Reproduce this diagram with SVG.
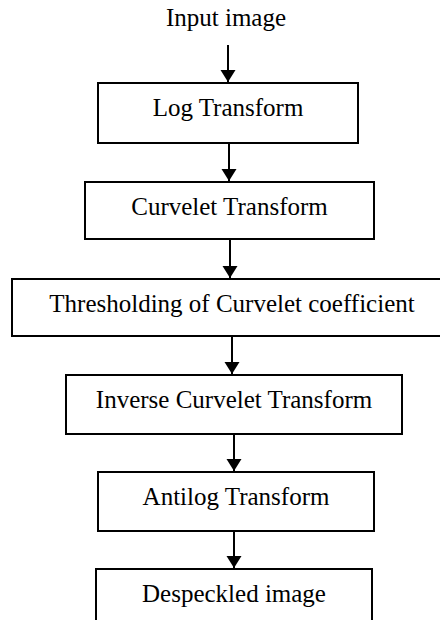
<svg xmlns="http://www.w3.org/2000/svg" width="440" height="620" viewBox="0 0 440 620">
<style>
.box{fill:#fff;stroke:#000;stroke-width:2}
.t{font-family:"Liberation Serif","Times New Roman",serif;font-size:25px;fill:#000;text-anchor:middle}
.c{stroke:#000;stroke-width:2;fill:none;marker-end:url(#ah)}
</style>
<defs>
<marker id="ah" markerUnits="userSpaceOnUse" markerWidth="13" markerHeight="16" refX="12" refY="7.5" orient="auto">
<path d="M0,0 L12,7.5 L0,15 Z" fill="#000"/>
</marker>
</defs>
<rect width="440" height="620" fill="#fff"/>
<g id="input"><text class="t" x="226" y="26">Input image</text></g>
<g id="log"><rect class="box" x="98" y="83" width="260" height="60"/><text class="t" x="228" y="116">Log Transform</text></g>
<g id="curvelet"><rect class="box" x="85" y="182" width="289" height="57"/><text class="t" x="229.5" y="215">Curvelet Transform</text></g>
<g id="threshold"><rect class="box" x="12" y="279" width="440" height="57"/><text class="t" x="232" y="312">Thresholding of Curvelet coefficient</text></g>
<g id="inverse"><rect class="box" x="66" y="375" width="336" height="59"/><text class="t" x="234" y="408">Inverse Curvelet Transform</text></g>
<g id="antilog"><rect class="box" x="98" y="472" width="276" height="59"/><text class="t" x="236" y="505">Antilog Transform</text></g>
<g id="despeckled"><rect class="box" x="96" y="569" width="276" height="70"/><text class="t" x="234" y="602">Despeckled image</text></g>
<g id="connectors">
<line class="c" x1="228" y1="45" x2="228" y2="82"/>
<line class="c" x1="229" y1="144" x2="229" y2="181"/>
<line class="c" x1="230" y1="240" x2="230" y2="278"/>
<line class="c" x1="232" y1="337" x2="232" y2="374"/>
<line class="c" x1="234" y1="435" x2="234" y2="471"/>
<line class="c" x1="234" y1="532" x2="234" y2="568"/>
</g>
</svg>
